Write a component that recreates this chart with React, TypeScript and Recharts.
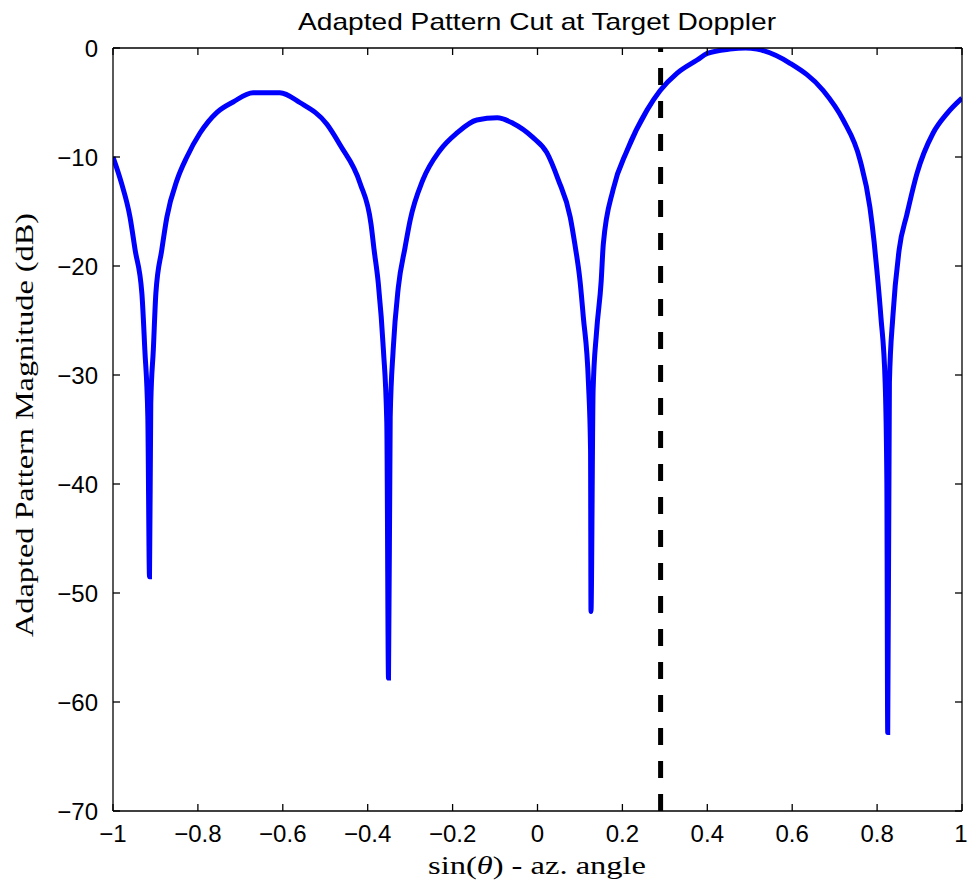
import React from "react";
import {
  LineChart,
  Line,
  XAxis,
  YAxis,
  ReferenceLine,
} from "recharts";

// sin(theta) sample positions and adapted pattern magnitude (dB)
const sinTheta = [
  -1.0, -0.98, -0.96, -0.948, -0.932, -0.925, -0.918, -0.914, -0.911, -0.905,
  -0.899, -0.885, -0.873, -0.849, -0.826, -0.795, -0.755, -0.717, -0.67,
  -0.607, -0.56, -0.496, -0.465, -0.418, -0.392, -0.385, -0.375, -0.363, -0.355,
  -0.351, -0.347, -0.34, -0.328, -0.312, -0.3, -0.27, -0.23, -0.19,
  -0.143, -0.095, -0.058, -0.011, 0.022, 0.049, 0.077, 0.088, 0.1, 0.108,
  0.12, 0.125, 0.126, 0.131, 0.139, 0.15, 0.155, 0.178, 0.211, 0.258,
  0.289, 0.329, 0.376, 0.4, 0.453, 0.49, 0.517, 0.595, 0.673, 0.72,
  0.76, 0.783, 0.793, 0.8, 0.809, 0.819, 0.823, 0.825, 0.829, 0.837,
  0.852, 0.87, 0.894, 0.932, 0.965, 1.0,
];
const magnitudeDb = [
  -10.0, -12.4, -15.5, -18.5, -22.5, -27.7, -33.8, -48.5, -32.6, -27.7,
  -22.5, -18.5, -15.5, -12.1, -10.0, -7.8, -5.9, -4.95, -4.1,
  -4.1, -5.0, -7.0, -8.9, -12.4, -16.2, -18.5, -21.6, -27.7, -34.4,
  -57.8, -33.9, -27.7, -22.0, -18.3, -15.8, -12.1, -9.4, -7.8,
  -6.6, -6.4, -6.9, -8.2, -9.6, -12.1, -15.5, -18.0, -21.3, -24.7,
  -30.7, -36.9, -51.7, -31.4, -26.1, -21.4, -18.0, -13.0, -9.4, -5.7,
  -3.9, -2.3, -1.1, -0.5, -0.1, 0.0, -0.1, -1.4, -3.9, -6.6,
  -10.3, -14.6, -17.8, -20.6, -24.7, -30.7, -39.9, -62.8, -30.7, -24.7,
  -18.5, -15.3, -11.5, -7.8, -6.0, -4.6,
];
const targetDoppler = 0.29;

const xTicks = [-1, -0.8, -0.6, -0.4, -0.2, 0, 0.2, 0.4, 0.6, 0.8, 1];
const yTicks = [-70, -60, -50, -40, -30, -20, -10, 0];

const data = sinTheta.map((x, i) => ({ x, y: magnitudeDb[i] }));

const W = 967;
const H = 893;

const fmt = (v: number) => (v < 0 ? "\u2212" + String(-v) : String(v));
const blank = () => "";

const tickFont = {
  fontFamily: "Liberation Sans, Arial, sans-serif",
  fontSize: 24,
  fill: "#000",
};
const axisStroke = { stroke: "#000", strokeWidth: 1.3 };

export default function App() {
  return (
    <div style={{ position: "absolute", left: 0, top: 0, width: W, height: H, background: "#fff" }}>
      <LineChart
        width={W}
        height={H}
        data={data}
        margin={{ top: 48, right: 5, bottom: 32, left: 53 }}
      >
        <XAxis
          xAxisId="main"
          dataKey="x"
          type="number"
          domain={[-1, 1]}
          ticks={xTicks}
          tickFormatter={fmt}
          tick={tickFont}
          tickLine={false}
          tickMargin={8}
          axisLine={axisStroke}
          height={50}
          allowDataOverflow
        />
        <XAxis
          xAxisId="bottomTicks"
          dataKey="x"
          type="number"
          domain={[-1, 1]}
          ticks={xTicks}
          tickFormatter={blank}
          mirror
          tickSize={7}
          tickLine={axisStroke}
          axisLine={false}
          allowDataOverflow
        />
        <XAxis
          xAxisId="top"
          dataKey="x"
          type="number"
          orientation="top"
          domain={[-1, 1]}
          ticks={xTicks}
          tickFormatter={blank}
          mirror
          tickSize={7}
          tickLine={axisStroke}
          axisLine={axisStroke}
          allowDataOverflow
        />
        <YAxis
          yAxisId="main"
          type="number"
          domain={[-70, 0]}
          ticks={yTicks}
          tickFormatter={fmt}
          tick={tickFont}
          tickLine={false}
          tickMargin={9}
          axisLine={axisStroke}
          width={60}
          allowDataOverflow
        />
        <YAxis
          yAxisId="leftTicks"
          type="number"
          domain={[-70, 0]}
          ticks={yTicks}
          tickFormatter={blank}
          mirror
          tickSize={7}
          tickLine={axisStroke}
          axisLine={false}
          allowDataOverflow
        />
        <YAxis
          yAxisId="right"
          type="number"
          orientation="right"
          domain={[-70, 0]}
          ticks={yTicks}
          tickFormatter={blank}
          mirror
          tickSize={7}
          tickLine={axisStroke}
          axisLine={axisStroke}
          allowDataOverflow
        />
        <Line
          xAxisId="main"
          yAxisId="main"
          type="monotone"
          dataKey="y"
          stroke="#0000ff"
          strokeWidth={5}
          dot={false}
          isAnimationActive={false}
        />
        <ReferenceLine
          xAxisId="main"
          yAxisId="main"
          x={targetDoppler}
          stroke="#000"
          strokeWidth={5}
          strokeDasharray="17 16"
        />
      </LineChart>
      <svg
        width={W}
        height={H}
        style={{ position: "absolute", left: 0, top: 0, pointerEvents: "none" }}
      >
        <text
          x={537}
          y={30}
          textAnchor="middle"
          fontFamily="Liberation Sans, Arial, sans-serif"
          fontSize={24}
          textLength={478}
          lengthAdjust="spacingAndGlyphs"
        >
          Adapted Pattern Cut at Target Doppler
        </text>
        <text
          x={537}
          y={874}
          textAnchor="middle"
          fontFamily="Liberation Serif, Times New Roman, serif"
          fontSize={25}
          textLength={218}
          lengthAdjust="spacingAndGlyphs"
        >
          sin(<tspan fontStyle="italic">θ</tspan>) - az. angle
        </text>
        <text
          transform="translate(33,425) rotate(-90)"
          textAnchor="middle"
          fontFamily="Liberation Serif, Times New Roman, serif"
          fontSize={25}
          textLength={424}
          lengthAdjust="spacingAndGlyphs"
        >
          Adapted Pattern Magnitude (dB)
        </text>
      </svg>
    </div>
  );
}
